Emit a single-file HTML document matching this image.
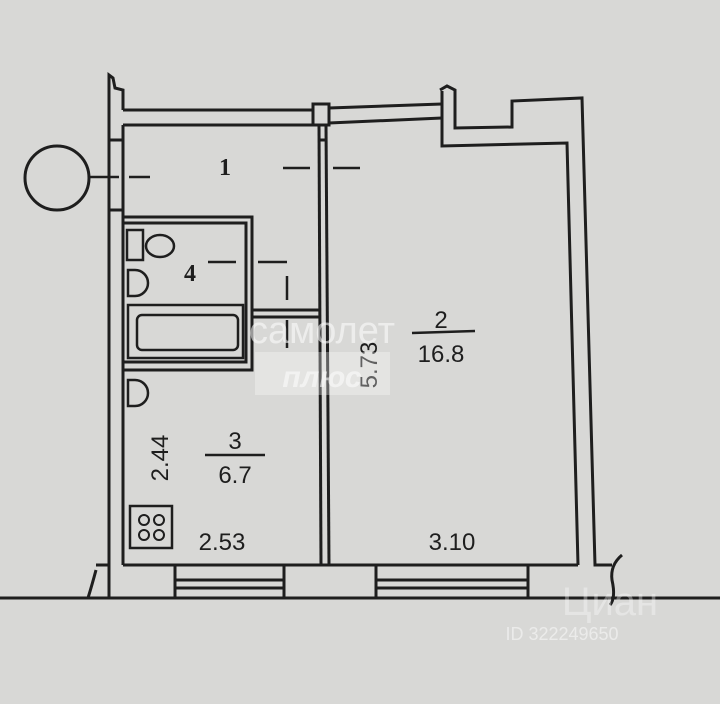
<!DOCTYPE html>
<html><head><meta charset="utf-8"><style>
html,body{margin:0;padding:0;background:#d8d8d6;}
svg{display:block}
</style></head><body>
<svg width="720" height="704" viewBox="0 0 720 704" xmlns="http://www.w3.org/2000/svg" font-family="Liberation Sans, sans-serif">
<rect width="720" height="704" fill="#d8d8d6"/>
<g fill="none" stroke="#1e1e1e" stroke-width="3">
<polyline points="109,598 109,75 113,78 115,88 123,90 123,110"/>
<line x1="123" y1="125" x2="123" y2="565"/>
<line x1="109" y1="140" x2="123" y2="140"/>
<line x1="109" y1="210" x2="123" y2="210"/>
<line x1="123" y1="110" x2="313" y2="110"/>
<line x1="123" y1="125" x2="313" y2="125"/>
<line x1="329" y1="108" x2="442" y2="104"/>
<line x1="329" y1="123" x2="442" y2="118"/>
<rect x="313" y="104" width="16" height="21"/>
<polyline points="442,91 442,146 567,143 578,565"/>
<polyline points="440,90 447,86 455,90 455,128 512,127 512,101 582,98 595,565 612,565"/>
<line x1="319" y1="125" x2="321" y2="565"/>
<line x1="326" y1="125" x2="329" y2="565"/>
<line x1="319" y1="140" x2="326" y2="140"/>
<line x1="123" y1="565" x2="578" y2="565"/>
<line x1="0" y1="598" x2="720" y2="598"/>
<path d="M96 570 Q92 585 88 598"/>
<path d="M622 555 Q610 565 612 580 Q616 598 610 605"/>
<line x1="109" y1="565" x2="96" y2="565"/>
<rect x="175" y="565" width="109" height="33"/>
<rect x="376" y="565" width="152" height="33"/>
<line x1="175" y1="580" x2="284" y2="580"/><line x1="175" y1="588" x2="284" y2="588"/>
<line x1="376" y1="580" x2="528" y2="580"/><line x1="376" y1="588" x2="528" y2="588"/>
<polyline points="123,217 252,217 252,370 123,370"/>
<polyline points="123,223 246,223 246,362 123,362"/>
<line x1="252" y1="310" x2="319" y2="310"/>
<line x1="252" y1="317" x2="319" y2="317"/>
<rect x="128" y="305" width="115" height="53" stroke-width="2.5"/>
<rect x="137" y="315" width="101" height="35" rx="5" stroke-width="2.5"/>
<rect x="127" y="230" width="16" height="30" stroke-width="2.5"/>
<ellipse cx="160" cy="246" rx="14" ry="11" stroke-width="2.5"/>
<path d="M128 270 L135 270 A12 12 0 0 1 135 296 L128 296 Z" stroke-width="2.5"/>
<path d="M128 380 L135 380 A12 12 0 0 1 135 406 L128 406 Z" stroke-width="2.5"/>
<rect x="130" y="506" width="42" height="42" stroke-width="2.5"/>
<circle cx="144" cy="520" r="5" stroke-width="2"/><circle cx="159" cy="520" r="5" stroke-width="2"/>
<circle cx="144" cy="535" r="5" stroke-width="2"/><circle cx="159" cy="535" r="5" stroke-width="2"/>
<circle cx="57" cy="178" r="32"/>
</g>
<g stroke="#1e1e1e" stroke-width="2.5">
<line x1="89" y1="177" x2="150" y2="177" stroke-dasharray="30 10"/>
<line x1="283" y1="168" x2="310" y2="168"/><line x1="333" y1="168" x2="360" y2="168"/>
<line x1="208" y1="262" x2="236" y2="262"/><line x1="258" y1="262" x2="287" y2="262"/>
<line x1="287" y1="276" x2="287" y2="300"/><line x1="287" y1="320" x2="287" y2="348"/>
<line x1="412" y1="333" x2="475" y2="331"/>
<line x1="205" y1="455" x2="265" y2="455"/>
</g>
<g fill="#1e1e1e" font-size="24" text-anchor="middle">
<text x="225" y="175" font-weight="bold" font-family="Liberation Serif, serif">1</text>
<text x="190" y="281" font-weight="bold" font-family="Liberation Serif, serif">4</text>
<text x="441" y="328">2</text>
<text x="441" y="362">16.8</text>
<text x="235" y="449">3</text>
<text x="235" y="483">6.7</text>
<text x="222" y="550">2.53</text>
<text x="452" y="550">3.10</text>
<text transform="translate(168,458) rotate(-90)">2.44</text>
<text transform="translate(377,365) rotate(-90)">5.73</text>
</g>
<rect x="255" y="352" width="135" height="43" fill="#ffffff" opacity="0.3"/>
<text x="322" y="343" font-size="38" fill="#fff" opacity="0.55" text-anchor="middle">самолет</text>
<text x="322" y="387" font-size="30" font-style="italic" font-weight="bold" fill="#fff" opacity="0.55" text-anchor="middle">плюс</text>
<text x="610" y="615" font-size="40" fill="#fff" opacity="0.35" text-anchor="middle">Циан</text>
<text x="562" y="640" font-size="18" fill="#fff" opacity="0.5" text-anchor="middle">ID 322249650</text>
</svg>
</body></html>
